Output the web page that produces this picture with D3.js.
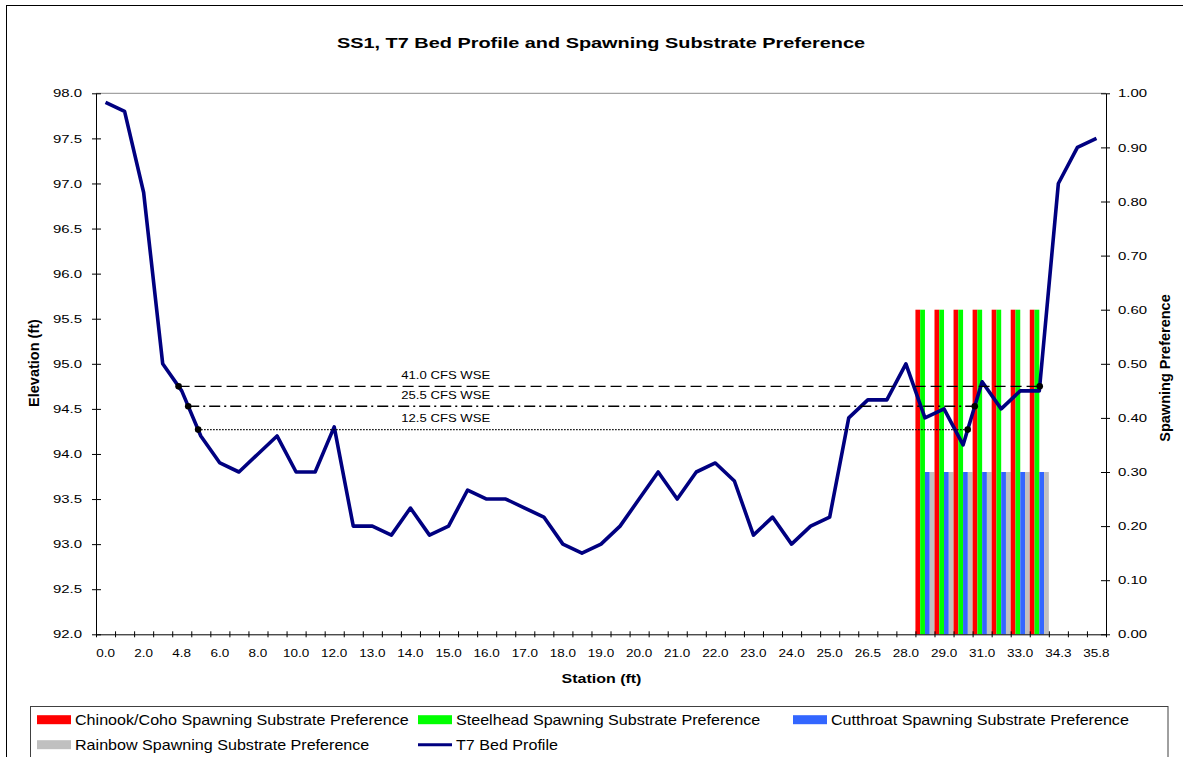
<!DOCTYPE html>
<html>
<head>
<meta charset="utf-8">
<script src="https://cdn.jsdelivr.net/npm/d3@7"></script>
<style>
  html, body { margin: 0; padding: 0; background: #fff; }
  svg { display: block; font-family: "Liberation Sans", Arial, Helvetica, sans-serif; }
</style>
</head>
<body>
<svg id="chart" width="1183" height="757"></svg>
<script>
// ─── Data ─────────────────────────────────────────────────────────────────────

const STATIONS = [
  '0.0', '1.0', '2.0', '3.0', '4.8', '5.4', '6.0', '7.0', '8.0', '9.0',
  '10.0', '11.0', '12.0', '12.5', '13.0', '13.5', '14.0', '14.5', '15.0', '15.5',
  '16.0', '16.5', '17.0', '17.5', '18.0', '18.5', '19.0', '19.5', '20.0', '20.5',
  '21.0', '21.5', '22.0', '22.5', '23.0', '23.5', '24.0', '24.5', '25.0', '25.8',
  '26.5', '27.3', '28.0', '28.5', '29.0', '30.0', '31.0', '32.0', '33.0', '33.7',
  '34.3', '35.0', '35.8',
];

// T7 bed profile, elevation (ft)
const BED_ELEV = [
  97.9, 97.8, 96.9, 95.0, 94.7, 94.2, 93.9, 93.8, 94.0, 94.2,
  93.8, 93.8, 94.3, 93.2, 93.2, 93.1, 93.4, 93.1, 93.2, 93.6,
  93.5, 93.5, 93.4, 93.3, 93.0, 92.9, 93.0, 93.2, 93.5, 93.8,
  93.5, 93.8, 93.9, 93.7, 93.1, 93.3, 93.0, 93.2, 93.3, 94.4,
  94.6, 94.6, 95.0, 94.4, 94.5, 94.1, 94.8, 94.5, 94.7, 94.7,
  97.0, 97.4, 97.5,
];

// Spawning substrate preference (secondary axis), only stations with bars
const PREF_STATIONS = ['28.5', '29.0', '30.0', '31.0', '32.0', '33.0', '33.7'];
const CHINOOK   = [0.60, 0.60, 0.60, 0.60, 0.60, 0.60, 0.60];
const STEELHEAD = [0.60, 0.60, 0.60, 0.60, 0.60, 0.60, 0.60];
const CUTTHROAT = [0.30, 0.30, 0.30, 0.30, 0.30, 0.30, 0.30];
const RAINBOW   = [0.30, 0.30, 0.30, 0.30, 0.30, 0.30, 0.30];

// Water surface elevations; segments of the profile where each one meets the bed
const WSE_FLOWS    = ['41.0', '25.5', '12.5'];
const WSE_ELEV     = [94.75, 94.53, 94.27];
const WSE_FROM_SEG = [3, 4, 4];
const WSE_TO_SEG   = [49, 45, 45];
const WSE_LABEL_AT = 17.85; // station index where the labels sit

const LEFT_TICKS  = d3.range(92, 98.001, 0.5);
const RIGHT_TICKS = d3.range(0, 1.0001, 0.1);

// ─── Layout ───────────────────────────────────────────────────────────────────

const W = 1183, H = 757;
const PLOT = { left: 96, right: 1106, top: 93.3, bottom: 634.3 };

const SERIES = [
  { key: 'chinook',   name: 'Chinook/Coho Spawning Substrate Preference', values: CHINOOK,   color: '#FF0000' },
  { key: 'steelhead', name: 'Steelhead Spawning Substrate Preference',    values: STEELHEAD, color: '#00FF00' },
  { key: 'cutthroat', name: 'Cutthroat Spawning Substrate Preference',    values: CUTTHROAT, color: '#3366FF' },
  { key: 'rainbow',   name: 'Rainbow Spawning Substrate Preference',      values: RAINBOW,   color: '#C0C0C0' },
];
const LINE_COLOR = '#000080';
const WSE_DASH = ['11,5', '11,4,2,4', '1.5,1.5'];

const svg = d3.select('#chart');

// Stretch text horizontally (the source chart was widened after export)
function stretch(sel, sx) {
  sel.each(function() {
    const t = d3.select(this);
    const tx = +t.attr('x') || 0, ty = +t.attr('y') || 0;
    t.attr('x', 0).attr('y', 0)
      .attr('transform', `translate(${tx},${ty}) scale(${sx},1)`);
  });
}

// Outer chart frame
svg.append('rect')
  .attr('x', 6.5).attr('y', 5.5)
  .attr('width', W).attr('height', H)
  .attr('fill', '#fff').attr('stroke', '#000');

// ─── Scales ───────────────────────────────────────────────────────────────────

const idx = d3.range(STATIONS.length);
const x = d3.scaleBand().domain(idx).range([PLOT.left, PLOT.right]).padding(0);
const bw = x.bandwidth();
const xEdge = d3.scaleLinear().domain([0, STATIONS.length]).range([PLOT.left, PLOT.right]);
const xMid = d3.scaleLinear().domain([0, STATIONS.length - 1]).range([x(0) + bw / 2, x(STATIONS.length - 1) + bw / 2]);
const y  = d3.scaleLinear().domain([92, 98]).range([PLOT.bottom, PLOT.top]);
const y2 = d3.scaleLinear().domain([0, 1]).range([PLOT.bottom, PLOT.top]);
const xSub = d3.scaleBand().domain(SERIES.map(s => s.key)).range([0, bw]).padding(0);

// Plot area top border
svg.append('line')
  .attr('x1', PLOT.left).attr('x2', PLOT.right)
  .attr('y1', PLOT.top).attr('y2', PLOT.top)
  .attr('stroke', '#8c8c8c').attr('stroke-width', 1);

// ─── Bars ─────────────────────────────────────────────────────────────────────

const barData = [];
PREF_STATIONS.forEach((st, j) => {
  const i = STATIONS.indexOf(st);
  SERIES.forEach(s => barData.push({ i, key: s.key, v: s.values[j], color: s.color }));
});

svg.append('g').selectAll('rect')
  .data(barData)
  .join('rect')
  .attr('x', d => x(d.i) + xSub(d.key))
  .attr('y', d => y2(d.v))
  .attr('width', xSub.bandwidth())
  .attr('height', d => y2(0) - y2(d.v))
  .attr('fill', d => d.color);

// ─── Bed profile ──────────────────────────────────────────────────────────────

svg.append('path')
  .datum(BED_ELEV)
  .attr('fill', 'none')
  .attr('stroke', LINE_COLOR)
  .attr('stroke-width', 3.6)
  .attr('stroke-linejoin', 'round')
  .attr('d', d3.line().x((d, i) => xMid(i)).y(d => y(d)));

// ─── Water surface lines ──────────────────────────────────────────────────────

function crossing(seg, elev) {
  const a = BED_ELEV[seg], b = BED_ELEV[seg + 1];
  return seg + (elev - a) / (b - a);
}

const wse = WSE_FLOWS.map((flow, k) => ({
  flow,
  elev: WSE_ELEV[k],
  from: crossing(WSE_FROM_SEG[k], WSE_ELEV[k]),
  to:   crossing(WSE_TO_SEG[k], WSE_ELEV[k]),
  dash: WSE_DASH[k],
}));

const wseG = svg.append('g');
wse.forEach(w => {
  wseG.append('line')
    .attr('x1', xMid(w.from)).attr('x2', xMid(w.to))
    .attr('y1', y(w.elev)).attr('y2', y(w.elev))
    .attr('stroke', '#000').attr('stroke-width', 1.4)
    .attr('stroke-dasharray', w.dash);

  wseG.selectAll(null)
    .data([w.from, w.to])
    .join('circle')
    .attr('cx', d => xMid(d)).attr('cy', y(w.elev))
    .attr('r', 3.3).attr('fill', '#000');

  wseG.append('text')
    .attr('x', xMid(WSE_LABEL_AT)).attr('y', y(w.elev) - 7.5)
    .attr('text-anchor', 'middle')
    .attr('font-size', 10.5)
    .text(`${w.flow} CFS WSE`)
    .call(stretch, 1.25);
});

// ─── Axes ─────────────────────────────────────────────────────────────────────

const leftAxis = svg.append('g')
  .attr('transform', `translate(${PLOT.left},0)`)
  .call(d3.axisLeft(y).tickValues(LEFT_TICKS).tickFormat(d3.format('.1f'))
    .tickSize(4).tickSizeOuter(0).tickPadding(10));
leftAxis.selectAll('.tick line').attr('x2', -4).attr('x1', 5);
leftAxis.selectAll('text').attr('font-size', 11.5).attr('fill', '#000')
  .attr('font-family', null).call(stretch, 1.3);

const rightAxis = svg.append('g')
  .attr('transform', `translate(${PLOT.right},0)`)
  .call(d3.axisRight(y2).tickValues(RIGHT_TICKS).tickFormat(d3.format('.2f'))
    .tickSize(4).tickSizeOuter(0).tickPadding(8));
rightAxis.selectAll('.tick line').attr('x2', 4).attr('x1', -5);
rightAxis.selectAll('text').attr('font-size', 11.5).attr('fill', '#000')
  .attr('font-family', null).call(stretch, 1.3);

// tick marks between categories
const bottomTicks = svg.append('g')
  .attr('transform', `translate(0,${PLOT.bottom})`)
  .call(d3.axisBottom(xEdge).tickValues(d3.range(STATIONS.length + 1)).tickFormat('')
    .tickSize(3).tickSizeOuter(0));
bottomTicks.selectAll('.tick line').attr('y1', -3).attr('y2', 3);

// labels on every other category
const bottomLabels = svg.append('g')
  .attr('transform', `translate(0,${PLOT.bottom})`)
  .call(d3.axisBottom(x).tickValues(idx.filter(i => i % 2 === 0))
    .tickFormat(i => STATIONS[i]).tickSize(0).tickPadding(15));
bottomLabels.select('.domain').remove();
bottomLabels.selectAll('text').attr('font-size', 10.8).attr('fill', '#000')
  .attr('font-family', null).call(stretch, 1.25);

[leftAxis, rightAxis, bottomTicks].forEach(g =>
  g.selectAll('.domain, .tick line').attr('stroke', '#000'));

// ─── Titles ───────────────────────────────────────────────────────────────────

svg.append('text')
  .attr('x', 601).attr('y', 48)
  .attr('text-anchor', 'middle')
  .attr('font-size', 15.3).attr('font-weight', 'bold')
  .text('SS1, T7 Bed Profile and Spawning Substrate Preference')
  .call(stretch, 1.3);

svg.append('text')
  .attr('x', 601.5).attr('y', 683)
  .attr('text-anchor', 'middle')
  .attr('font-size', 12.8).attr('font-weight', 'bold')
  .text('Station (ft)')
  .call(stretch, 1.25);

svg.append('text')
  .attr('transform', 'translate(39,363) rotate(-90)')
  .attr('text-anchor', 'middle')
  .attr('font-size', 14.5).attr('font-weight', 'bold')
  .text('Elevation (ft)');

svg.append('text')
  .attr('transform', 'translate(1170,368) rotate(-90)')
  .attr('text-anchor', 'middle')
  .attr('font-size', 14.5).attr('font-weight', 'bold')
  .text('Spawning Preference');

// ─── Legend ───────────────────────────────────────────────────────────────────

svg.append('rect')
  .attr('x', 30.5).attr('y', 706.5)
  .attr('width', 1137.5).attr('height', 70)
  .attr('fill', '#fff').attr('stroke', '#404040');

const LEGEND_COLS = [37, 418, 793];
const LEGEND_ROWS = [719.7, 744.7];
const legendItems = [
  ...SERIES.map(s => ({ name: s.name, color: s.color, kind: 'bar' })),
  { name: 'T7 Bed Profile', color: LINE_COLOR, kind: 'line' },
];

const legend = svg.append('g');
legendItems.forEach((it, k) => {
  const lx = LEGEND_COLS[k % 3], ly = LEGEND_ROWS[Math.floor(k / 3)];
  if (it.kind === 'bar') {
    legend.append('rect')
      .attr('x', lx).attr('y', ly - 4.5)
      .attr('width', 34).attr('height', 9)
      .attr('fill', it.color);
  } else {
    legend.append('line')
      .attr('x1', lx).attr('x2', lx + 34)
      .attr('y1', ly).attr('y2', ly)
      .attr('stroke', it.color).attr('stroke-width', 3);
  }
  legend.append('text')
    .attr('x', lx + 38).attr('y', ly + 5)
    .attr('font-size', 14)
    .text(it.name)
    .call(stretch, 1.15);
});
</script>
</body>
</html>
